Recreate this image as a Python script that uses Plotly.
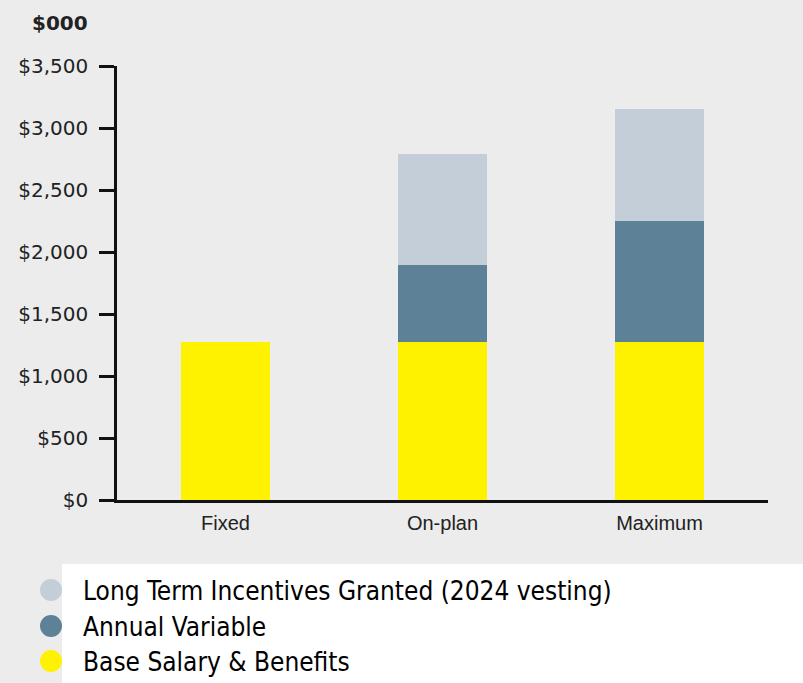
import plotly.graph_objects as go

categories = ["Fixed", "On-plan", "Maximum"]
series_names = ["Base Salary & Benefits", "Annual Variable", "Long Term Incentives Granted (2024 vesting)"]
base_salary = [1272, 1272, 1272]
annual_variable = [0, 625, 980]
lti = [0, 893, 903]
colors = ["#FFF200", "#5D8197", "#C3CED8"]
y_ticks = [0, 500, 1000, 1500, 2000, 2500, 3000, 3500]
y_tick_text = ["$0", "$500", "$1,000", "$1,500", "$2,000", "$2,500", "$3,000", "$3,500"]

W, H = 803, 683
L, R, T, B = 117, 35, 66, 183
pw, ph = W - L - R, H - T - B

def px(x):
    return (x - L) / pw

def py(y):
    return (H - B - y) / ph

fig = go.Figure()
for name, vals, col in zip(series_names, [base_salary, annual_variable, lti], colors):
    fig.add_trace(go.Bar(x=categories, y=vals, name=name, marker=dict(color=col, line=dict(width=0)),
                         width=0.414, showlegend=False))

fig.update_layout(
    barmode="stack",
    width=W, height=H,
    margin=dict(l=L, r=R, t=T, b=B, pad=0),
    paper_bgcolor="#ECECEC",
    plot_bgcolor="#ECECEC",
    font=dict(family="DejaVu Sans", color="#222222"),
    xaxis=dict(range=[-0.5, 2.5], showline=True, linecolor="#111111", linewidth=2.5,
               ticks="", tickfont=dict(size=20, family="Liberation Sans"), ticklabelstandoff=3,
               showgrid=False, zeroline=False),
    yaxis=dict(range=[0, 3500], tickvals=y_ticks, ticktext=y_tick_text,
               showline=True, linecolor="#111111", linewidth=2.5, ticks="outside", ticklen=15,
               tickwidth=2.5, tickcolor="#111111", tickfont=dict(size=20, family="DejaVu Sans"),
               ticklabelstandoff=7, showgrid=False, zeroline=False),
)

fig.add_annotation(text="<b>$000</b>", xref="paper", yref="paper", x=px(90), y=py(23),
                   xanchor="right", yanchor="middle", showarrow=False, font=dict(size=20, family="DejaVu Sans"))

# legend box
fig.add_shape(type="rect", xref="paper", yref="paper", x0=px(62), x1=px(803), y0=py(683), y1=py(564),
              fillcolor="white", line=dict(width=0), layer="below")
leg_rows = [(series_names[2], colors[2], 590), (series_names[1], colors[1], 626), (series_names[0], colors[0], 661)]
for name, col, yc in leg_rows:
    fig.add_shape(type="circle", xref="paper", yref="paper", x0=px(40), x1=px(62), y0=py(yc + 11), y1=py(yc - 11),
                  fillcolor=col, line=dict(width=0))
    fig.add_annotation(text=name, xref="paper", yref="paper", x=px(81), y=py(yc + 1), xanchor="left", yanchor="middle",
                       showarrow=False, font=dict(size=26, family="DejaVu Sans Condensed", color="#000000"))

fig.write_html("out.html")
